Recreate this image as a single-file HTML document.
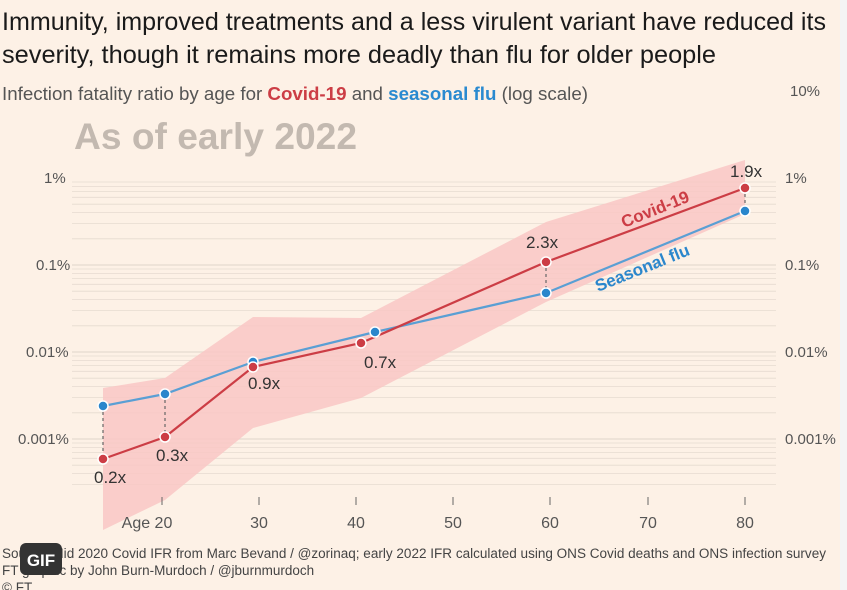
<!DOCTYPE html>
<html><head><meta charset="utf-8"><style>
html,body{margin:0;padding:0;background:#fff;}
#c{position:relative;width:847px;height:590px;background:#fdf1e6;overflow:hidden;font-family:"Liberation Sans",sans-serif;}
</style></head><body><div id="c">
<svg width="847" height="590" xmlns="http://www.w3.org/2000/svg" font-family="Liberation Sans, sans-serif">
<rect x="0" y="0" width="847" height="590" fill="#fdf1e6"/>
<rect x="840" y="0" width="7" height="590" fill="#f4f4f4"/>
<text x="2" y="30" font-size="25" fill="#1a1a1a" textLength="824" lengthAdjust="spacingAndGlyphs">Immunity, improved treatments and a less virulent variant have reduced its</text>
<text x="2" y="63" font-size="25" fill="#1a1a1a" textLength="714" lengthAdjust="spacingAndGlyphs">severity, though it remains more deadly than flu for older people</text>
<text x="2" y="100" font-size="18.5" fill="#555" textLength="586" lengthAdjust="spacingAndGlyphs">Infection fatality ratio by age for <tspan fill="#cc3d45" font-weight="bold">Covid-19</tspan> and <tspan fill="#2a8ad0" font-weight="bold">seasonal flu</tspan> (log scale)</text>
<text x="74" y="149" font-size="37" font-weight="bold" fill="#c3b9b0" textLength="283" lengthAdjust="spacingAndGlyphs">As of early 2022</text>
<g id="grid" stroke="#e6dbd0" stroke-width="1"></g>
<g font-size="15" fill="#555">
<text x="790" y="96">10%</text>
<text x="44" y="183">1%</text><text x="785" y="183">1%</text>
<text x="36" y="270">0.1%</text><text x="785" y="270">0.1%</text>
<text x="26" y="357">0.01%</text><text x="785" y="357">0.01%</text>
<text x="18" y="444">0.001%</text><text x="785" y="444">0.001%</text>
</g>
<polygon fill="#f9c7c4" opacity="0.85" points="103,388 165,378 253,317 361,318 546,222 745,160 745,214 546,302 361,398 253,428 165,500 103,530"/>
<g stroke="#666" stroke-width="1.2" stroke-dasharray="3,3">
<line x1="103" y1="406" x2="103" y2="459"/><line x1="165" y1="394" x2="165" y2="437"/>
<line x1="546" y1="262" x2="546" y2="293"/><line x1="745" y1="188" x2="745" y2="211"/>
</g>
<polyline fill="none" stroke="#5a9fd4" stroke-width="2.2" points="103,406 165,394 253,362 375,332 546,293 745,211"/>
<polyline fill="none" stroke="#cc3d45" stroke-width="2.2" points="103,459 165,437 253,367 361,343 546,262 745,188"/>
<g fill="#2a86cc" stroke="#fff" stroke-width="1.5">
<circle cx="103" cy="406" r="5"/><circle cx="165" cy="394" r="5"/><circle cx="253" cy="362" r="5"/><circle cx="375" cy="332" r="5"/><circle cx="546" cy="293" r="5"/><circle cx="745" cy="211" r="5"/>
</g>
<g fill="#cc3d45" stroke="#fff" stroke-width="1.5">
<circle cx="103" cy="459" r="5"/><circle cx="165" cy="437" r="5"/><circle cx="253" cy="367" r="5"/><circle cx="361" cy="343" r="5"/><circle cx="546" cy="262" r="5"/><circle cx="745" cy="188" r="5"/>
</g>
<g font-size="17" fill="#333">
<text x="94" y="483">0.2x</text><text x="156" y="461">0.3x</text><text x="248" y="389">0.9x</text>
<text x="364" y="368">0.7x</text><text x="526" y="248">2.3x</text><text x="730" y="177">1.9x</text>
</g>
<text transform="translate(624,228) rotate(-22)" font-size="17" font-weight="bold" fill="#cc3d45">Covid-19</text>
<text transform="translate(598,292) rotate(-22)" font-size="17" font-weight="bold" fill="#2a86cc">Seasonal flu</text>
<g stroke="#666" stroke-width="1">
<line x1="162" y1="497" x2="162" y2="505"/><line x1="259" y1="497" x2="259" y2="505"/><line x1="356" y1="497" x2="356" y2="505"/><line x1="453" y1="497" x2="453" y2="505"/><line x1="550" y1="497" x2="550" y2="505"/><line x1="648" y1="497" x2="648" y2="505"/><line x1="745" y1="497" x2="745" y2="505"/>
</g>
<g font-size="16" fill="#555" text-anchor="middle">
<text x="147" y="528">Age 20</text><text x="259" y="528">30</text><text x="356" y="528">40</text><text x="453" y="528">50</text><text x="550" y="528">60</text><text x="648" y="528">70</text><text x="745" y="528">80</text>
</g>
<g font-size="13.5" fill="#444">
<text x="2" y="558" textLength="824" lengthAdjust="spacingAndGlyphs">Source: Mid 2020 Covid IFR from Marc Bevand / @zorinaq; early 2022 IFR calculated using ONS Covid deaths and ONS infection survey</text>
<text x="2" y="575">FT graphic by John Burn-Murdoch / @jburnmurdoch</text>
<text x="2" y="592">© FT</text>
</g>
<rect x="20" y="543" width="42" height="32" rx="6" fill="#333"/>
<text x="41" y="566" font-size="17" font-weight="bold" fill="#fff" text-anchor="middle">GIF</text>
</svg>
<script>
var g=document.getElementById('grid'),s='';
for(var d=1;d<=4;d++){var base=178+87*d;for(var k=1;k<=9;k++){var y=base-87*Math.log10(k);if(y>492)continue;s+='<line x1="72" x2="776" y1="'+y.toFixed(1)+'" y2="'+y.toFixed(1)+'" stroke-width="'+(k==1?1.3:0.8)+'"/>';}}
g.innerHTML=s;
</script>
</div></body></html>
